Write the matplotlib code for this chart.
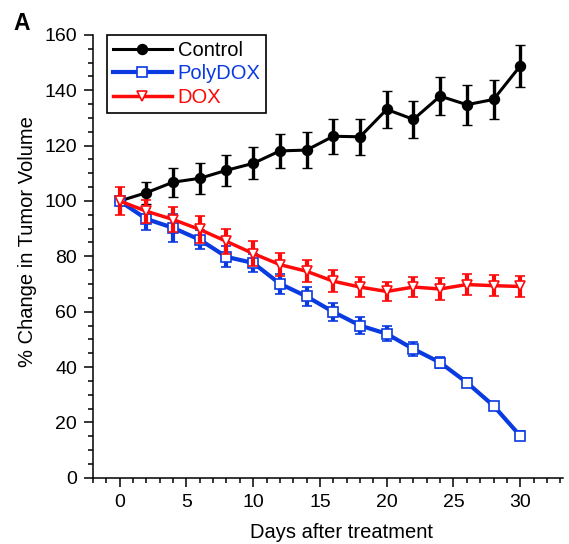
import matplotlib
matplotlib.use("Agg")
import matplotlib.pyplot as plt
from matplotlib.ticker import MultipleLocator
from matplotlib.lines import Line2D

plt.rcParams['font.family'] = ['Liberation Sans', 'DejaVu Sans']

days = [0, 2, 4, 6, 8, 10, 12, 14, 16, 18, 20, 22, 24, 26, 28, 30]
control = [100, 103, 106.8, 108.2, 111.1, 113.6, 118.1, 118.4, 123.4, 123.2, 133.1, 129.5, 137.9, 134.8, 136.7, 148.8]
control_err = [0, 4.0, 5.3, 5.5, 5.7, 5.8, 6.2, 6.4, 6.3, 6.5, 6.8, 6.8, 7.0, 7.2, 7.2, 7.7]
polydox = [100, 93.5, 90.3, 86.0, 79.8, 77.6, 70.1, 65.5, 59.9, 55.0, 52.0, 46.5, 41.6, 34.4, 26.0, 15.1]
polydox_err = [0, 4.0, 5.0, 3.5, 3.8, 3.4, 3.6, 3.5, 3.1, 3.2, 2.7, 2.5, 2.1, 1.5, 1.3, 1.6]
dox = [100, 96.3, 93.3, 89.7, 85.4, 81.0, 77.0, 74.6, 71.0, 68.9, 67.3, 68.9, 68.2, 69.8, 69.4, 69.1]
dox_err = [5.0, 4.1, 4.5, 4.8, 4.5, 4.5, 4.2, 3.9, 4.0, 3.6, 3.6, 3.6, 4.0, 3.7, 3.7, 3.7]

labels = ["Control", "PolyDOX", "DOX"]
BLUE = '#0a3be0'
RED = '#ff0a0a'

fig = plt.figure(figsize=(5.69, 5.44), dpi=100)
ax = fig.add_axes([0.1634, 0.1219, 0.826, 0.8138])

styles = [
    dict(color='black', lw=2.2, marker='o', ms=7.2, mfc='black', mec='black', mew=1.0),
    dict(color=BLUE, lw=3.0, marker='s', ms=6.5, mfc='white', mec=BLUE, mew=1.2),
    dict(color=RED, lw=2.5, marker='v', ms=7.5, mfc='white', mec=RED, mew=1.2),
]
series = [(control, control_err), (polydox, polydox_err), (dox, dox_err)]
elw = [2.4, 3.0, 3.0]
for i, ((vals, errs), st) in enumerate(zip(series, styles)):
    ax.errorbar(days, vals, yerr=errs, capsize=3.7, capthick=elw[i], elinewidth=elw[i],
                zorder=3 + i, **st)

ax.set_xlim(-2, 33.2)
ax.set_ylim(0, 160)
ax.xaxis.set_major_locator(MultipleLocator(5))
ax.xaxis.set_minor_locator(MultipleLocator(1))
ax.yaxis.set_major_locator(MultipleLocator(20))
ax.yaxis.set_minor_locator(MultipleLocator(5))
for s in ['top', 'right']:
    ax.spines[s].set_visible(False)
for s in ['left', 'bottom']:
    ax.spines[s].set_linewidth(1.1)
ax.tick_params(axis='both', which='major', direction='out', length=6.5, width=1.1, labelsize=14, pad=5)
ax.tick_params(axis='both', which='minor', direction='out', length=3.6, width=1.1)

ax.set_xlabel("Days after treatment", fontsize=14.5)
ax.set_ylabel("% Change in Tumor Volume", fontsize=14.5)
ax.xaxis.set_label_coords(0.528, -0.102)
ax.yaxis.set_label_coords(-0.12, 0.533)

handles = [Line2D([], [], **st) for st in styles]
leg = ax.legend(handles, labels, loc='upper left', bbox_to_anchor=(0.03, 1.0), fontsize=14.5,
                frameon=True, fancybox=False, handlelength=2.9, borderpad=0.3, labelspacing=0.22,
                handletextpad=0.3, borderaxespad=0, framealpha=1)
leg.get_frame().set_edgecolor('black')
leg.get_frame().set_linewidth(1.2)
for txt, c in zip(leg.get_texts(), ['black', BLUE, RED]):
    txt.set_color(c)

fig.text(13 / 569, 1 - 12 / 544, "A", fontsize=16.5, fontweight='bold', va='top', ha='left')

fig.savefig("out.png", dpi=100)
